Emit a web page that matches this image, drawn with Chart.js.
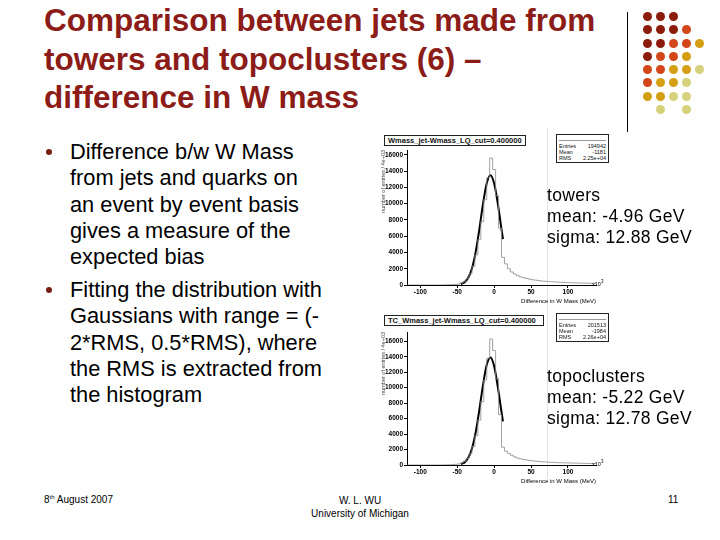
<!DOCTYPE html>
<html>
<head>
<meta charset="utf-8">
<script src="https://cdn.jsdelivr.net/npm/chart.js@4"></script>
<style>
  body { margin: 0; background: #fff; font-family: "Liberation Sans", Arial, sans-serif; }
  #slide { position: relative; width: 720px; height: 540px; overflow: hidden; background: #fff; }
  .abs { position: absolute; }
  #title { left: 44px; top: 1px; font-size: 31.5px; font-weight: bold; color: #8c1c17; line-height: 38.5px; white-space: nowrap; }
  .bullet { left: 70px; font-size: 21.8px; line-height: 26.3px; color: #000; white-space: nowrap; }
  .dot { position: absolute; width: 6px; height: 6px; border-radius: 50%; background: #7a1c14; }
  .note { left: 547px; font-size: 17.5px; line-height: 21px; color: #000; white-space: nowrap; letter-spacing: 0.3px; }
  .foot { font-size: 10px; color: #000; }
  .hbox { border: 1px solid #222; font-size: 7.5px; font-weight: bold; line-height: 9px; padding: 0 3px; background: #fff; color: #111; white-space: nowrap; }
  .stats { border: 1px solid #222; font-size: 5.5px; line-height: 6px; background: #fff; color: #111; padding: 1px 2px; }
  .stats div { display: flex; justify-content: space-between; }
  .deco { position: absolute; width: 9px; height: 9px; border-radius: 50%; }
  canvas { position: absolute; }
</style>
</head>
<body>
<div id="slide">
  <div id="title" class="abs">Comparison between jets made from<br>towers and topoclusters (6) –<br>difference in W mass</div>

  <div class="dot" style="left:46px;top:149px"></div>
  <div class="abs bullet" style="top:139px">Difference b/w W Mass<br>from jets and quarks on<br>an event by event basis<br>gives a measure of the<br>expected bias</div>
  <div class="dot" style="left:46px;top:287px"></div>
  <div class="abs bullet" style="top:277px">Fitting the distribution with<br>Gaussians with range = (-<br>2*RMS, 0.5*RMS), where<br>the RMS is extracted from<br>the histogram</div>

  <div class="abs" style="left:547px;top:128px;width:1px;height:354px;background:#e4e4e4"></div>

  <canvas id="towersChart" width="230" height="180" style="left:380px;top:125px"></canvas>
  <canvas id="topoChart" width="230" height="180" style="left:380px;top:305px"></canvas>

  <div class="abs hbox" style="left:384px;top:135px">Wmass_jet-Wmass_LQ_cut=0.400000</div>
  <div class="abs hbox" style="left:384px;top:315px;width:152px">TC_Wmass_jet-Wmass_LQ_cut=0.400000</div>

  <div class="abs stats" style="left:556px;top:134px;width:47px">
    <div style="border-bottom:1px solid #999;height:4px;margin-bottom:2px"></div>
    <div><span>Entries</span><span>194942</span></div>
    <div><span>Mean</span><span>-1181</span></div>
    <div><span>RMS</span><span>2.25e+04</span></div>
  </div>
  <div class="abs stats" style="left:556px;top:313px;width:47px">
    <div style="border-bottom:1px solid #999;height:4px;margin-bottom:2px"></div>
    <div><span>Entries</span><span>201513</span></div>
    <div><span>Mean</span><span>-1984</span></div>
    <div><span>RMS</span><span>2.26e+04</span></div>
  </div>

  <div class="abs" style="left:592px;top:279px;font-size:5.5px">x10<sup>3</sup></div>
  <div class="abs" style="left:592px;top:459px;font-size:5.5px">x10<sup>3</sup></div>

  <div class="abs note" style="top:185px">towers<br>mean: -4.96 GeV<br>sigma: 12.88 GeV</div>
  <div class="abs note" style="top:366px">topoclusters<br>mean: -5.22 GeV<br>sigma: 12.78 GeV</div>

  <div class="abs" style="left:627px;top:12px;width:1px;height:120px;background:#000"></div>
  <div id="deco"></div>

  <div class="abs foot" style="left:44px;top:494px">8<sup style="font-size:6px">th</sup> August 2007</div>
  <div class="abs foot" style="left:260px;width:200px;top:494px;text-align:center;line-height:13px">W. L. WU<br>University of Michigan</div>
  <div class="abs foot" style="left:668px;top:494px">11</div>
</div>

<script>
// histogram binning (GeV), axis ticks
const binStart = -118;
const binWidth = 4;
const xTicks = [-100, -50, 0, 50, 100];
const yTicks = [0, 2000, 4000, 6000, 8000, 10000, 12000, 14000, 16000];

// towers: entries per bin
const towersCounts = [
  0, 0, 0, 0, 0, 0, 0, 0, 0, 0, 0, 0, 0, 10, 20, 30, 50, 80,
  120, 250, 450, 800, 1400, 2300, 3700, 5600, 7800, 10500, 13200, 15600,
  14200, 11000, 7000, 3400,
  2600, 2000, 1600, 1350, 1150, 1000, 900, 800, 720, 650, 600, 550, 500, 470, 440,
  410, 390, 370, 350, 330, 310, 300, 280, 270, 260, 250, 240, 230, 220, 210
];
// topoclusters: entries per bin
const topoCounts = [
  0, 0, 0, 0, 0, 0, 0, 0, 0, 0, 0, 0, 0, 10, 20, 30, 60, 90,
  130, 260, 480, 850, 1500, 2400, 3800, 5800, 8200, 11000, 13800, 16300,
  14800, 11200, 6500, 2300,
  1800, 1500, 1250, 1050, 900, 800, 720, 650, 590, 540, 500, 460, 430, 400, 380,
  360, 340, 320, 300, 290, 280, 270, 260, 250, 240, 230, 220, 210, 200, 190
];

// gaussian fit curves
const fitX = [-45, -40, -35, -30, -25, -20, -15, -10, -5, 0, 5, 10, 12];
const towersFit = [100, 340, 890, 2050, 4050, 6850, 10000, 12500, 13500, 12500, 10000, 6850, 5650];
const topoFit = [110, 340, 930, 2130, 4200, 7130, 10370, 12950, 13900, 12800, 10100, 6870, 5630];

const towersYMax = 16600;
const topoYMax = 17200;

function histPoints(counts) {
  const pts = counts.map((c, i) => ({ x: binStart + i * binWidth, y: c }));
  pts.push({ x: binStart + counts.length * binWidth, y: counts[counts.length - 1] });
  return pts;
}

function makeChart(id, counts, fit, yMax, padTop) {
  const tickFont = { family: "Liberation Sans", size: 6.5, weight: "bold" };
  new Chart(document.getElementById(id), {
    type: "scatter",
    data: {
      datasets: [
        {
          data: histPoints(counts),
          showLine: true,
          stepped: "after",
          borderColor: "#8a8a8a",
          borderWidth: 0.8,
          pointRadius: 0
        },
        {
          data: fitX.map((x, i) => ({ x: x, y: fit[i] })),
          showLine: true,
          cubicInterpolationMode: "monotone",
          borderColor: "#000",
          borderWidth: 2,
          pointRadius: 0
        }
      ]
    },
    options: {
      responsive: false,
      devicePixelRatio: 1,
      animation: false,
      layout: { padding: { top: padTop, right: 14, left: 0, bottom: 0 } },
      plugins: { legend: { display: false }, tooltip: { enabled: false } },
      scales: {
        x: {
          type: "linear",
          min: binStart,
          max: binStart + counts.length * binWidth,
          afterBuildTicks: (s) => { s.ticks = xTicks.map((v) => ({ value: v })); },
          afterFit: (s) => { s.height = 20; },
          grid: { drawOnChartArea: false, tickLength: 3, color: "#000" },
          border: { color: "#000", width: 1 },
          ticks: { font: tickFont, color: "#000", padding: 0, maxRotation: 0, callback: (v) => String(v) },
          title: {
            display: true, text: "Difference in W Mass (MeV)", align: "end",
            font: { family: "Liberation Sans", size: 6 }, color: "#000", padding: 0
          }
        },
        y: {
          min: 0,
          max: yMax,
          afterBuildTicks: (s) => { s.ticks = yTicks.map((v) => ({ value: v })); },
          afterFit: (s) => { s.width = 27; },
          grid: { drawOnChartArea: false, tickLength: 3, color: "#000" },
          border: { color: "#000", width: 1 },
          ticks: { font: tickFont, color: "#000", padding: 1, callback: (v) => String(v) },
          title: {
            display: true, text: "number of entries / 4e+03", align: "end",
            font: { family: "Liberation Sans", size: 5.5 }, color: "#444", padding: 0
          }
        }
      }
    }
  });
}

makeChart("towersChart", towersCounts, towersFit, towersYMax, 25);
makeChart("topoChart", topoCounts, topoFit, topoYMax, 27);

// decorative dot pattern of the slide template
const decoCols = [647, 660, 673, 686, 699];
const decoRows = [16, 29, 43, 56, 69, 82, 96, 109];
const decoPalette = { d: "#8b1c0c", o: "#d2461a", g: "#d49f12", p: "#d6d27c" };
const decoPattern = ["ddd..", "dddo.", "ddoog", "doog.", "ooggp", "oggp.", "ggpp.", ".p.p."];
const deco = document.getElementById("deco");
decoPattern.forEach((row, r) => {
  row.split("").forEach((c, k) => {
    if (c === ".") return;
    const el = document.createElement("div");
    el.className = "deco";
    el.style.left = (decoCols[k] - 4.5) + "px";
    el.style.top = (decoRows[r] - 4.5) + "px";
    el.style.background = decoPalette[c];
    deco.appendChild(el);
  });
});
</script>
</body>
</html>
